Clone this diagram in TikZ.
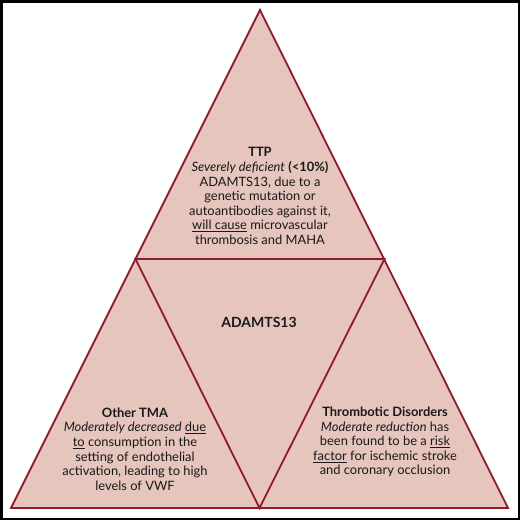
\documentclass[tikz,border=0pt]{standalone}
\usepackage{fontspec}
\setmainfont{Lato}
\definecolor{tri}{HTML}{E6C5BD}
\definecolor{edge}{HTML}{8C1C2E}
\begin{document}
\begin{tikzpicture}[x=1pt,y=-1pt,
  txt/.style={align=center,font=\fontsize{12.9}{14.6}\selectfont,text=black!90,inner sep=0pt},
  edgeline/.style={draw=edge,line width=1.8pt,line join=miter}]
\useasboundingbox (0,0) rectangle (520,520);
\draw[black,line width=2.5pt] (1.25,1.25) rectangle (518.75,518.75);
\coordinate (A) at (260,10);
\coordinate (BL) at (11,508);
\coordinate (BR) at (508,508);
\coordinate (ML) at (135.5,259);
\coordinate (MR) at (384.5,259);
\coordinate (MB) at (259.5,508);
\fill[tri] (A) -- (BL) -- (BR) -- cycle;
\draw[edgeline] (A) -- (BL) -- (BR) -- cycle;
\draw[edgeline] (ML) -- (MR) -- (MB) -- cycle;
\node[txt] (ttp) at (260,196) {\textbf{TTP}\\
\textit{Severely deficient} \textbf{(<10\%)}\\
ADAMTS13, due to a\\
genetic mutation or\\
autoantibodies against it,\\
\underline{will cause} microvascular\\
thrombosis and MAHA};
\node[txt,font=\fontsize{14}{16}\selectfont\bfseries] (adam) at (259,322) {ADAMTS13};
\node[txt] (tma) at (135,449) {\textbf{Other TMA}\\
\textit{Moderately decreased} \underline{due}\\
\underline{to} consumption in the\\
setting of endothelial\\
activation, leading to high\\
levels of VWF};
\node[txt] (thr) at (385,442) {\textbf{Thrombotic Disorders}\\
\textit{Moderate reduction} has\\
been found to be a \underline{risk}\\
\underline{factor} for ischemic stroke\\
and coronary occlusion};
\end{tikzpicture}
\end{document}
